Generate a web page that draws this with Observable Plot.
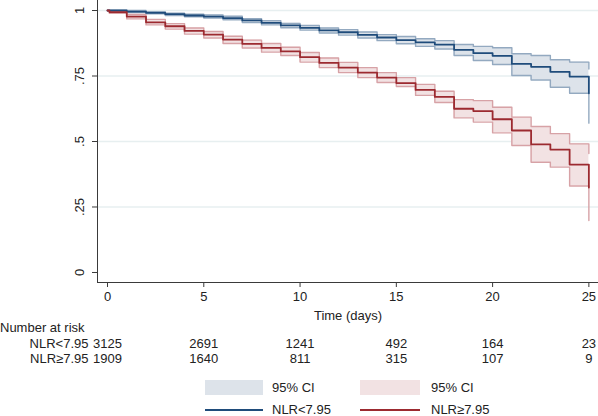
<!DOCTYPE html>
<html><head><meta charset="utf-8">
<script src="https://cdn.jsdelivr.net/npm/d3@7"></script>
<script src="https://cdn.jsdelivr.net/npm/@observablehq/plot@0.6"></script>
<style>
html,body{margin:0;padding:0;background:#fff;}
body{font-family:"Liberation Sans",Arial,sans-serif;font-size:13px;color:#222;}
#wrap{position:relative;width:598px;height:416px;overflow:hidden;}
#wrap > *{position:absolute;}
.lab{line-height:15px;white-space:nowrap;}
.sw{height:15px;}
.ln{height:2px;}
</style></head><body><div id="wrap"></div>
<script>
// ---- data ----
const blueTime = [0,1,2,3,4,5,6,7,8,9,10,11,12,13,14,15,16,17,18,19,20,21,22,23,24,25];
const blueSurv = [1.000,0.996,0.991,0.986,0.981,0.977,0.971,0.962,0.953,0.943,0.934,0.924,0.917,0.907,0.897,0.887,0.878,0.870,0.850,0.837,0.827,0.796,0.785,0.766,0.748,0.684];
const blueHi   = [1.000,1.000,0.995,0.990,0.986,0.983,0.978,0.969,0.961,0.951,0.943,0.933,0.927,0.918,0.908,0.901,0.892,0.885,0.870,0.863,0.858,0.835,0.828,0.812,0.803,0.777];
const blueLo   = [1.000,0.992,0.987,0.981,0.976,0.971,0.965,0.954,0.945,0.934,0.925,0.914,0.906,0.895,0.885,0.873,0.863,0.853,0.828,0.809,0.794,0.752,0.735,0.707,0.684,0.570];

const redTime = [0,0.1,1,2,3,4,5,6,7,8,9,10,11,12,13,14,15,16,17,18,19,20,21,22,23,24,25];
const redSurv = [1.000,0.994,0.977,0.955,0.940,0.922,0.908,0.889,0.873,0.857,0.844,0.822,0.800,0.782,0.763,0.744,0.723,0.697,0.670,0.625,0.616,0.585,0.542,0.489,0.469,0.412,0.324];
const redHi   = [1.000,0.998,0.985,0.966,0.950,0.933,0.920,0.902,0.887,0.874,0.860,0.840,0.819,0.802,0.782,0.763,0.744,0.718,0.692,0.660,0.656,0.631,0.593,0.557,0.530,0.491,0.454];
const redLo   = [1.000,0.989,0.968,0.945,0.929,0.910,0.895,0.874,0.857,0.841,0.828,0.803,0.782,0.763,0.744,0.725,0.710,0.676,0.649,0.590,0.574,0.533,0.485,0.421,0.402,0.330,0.198];

const groups = ["NLR<7.95", "NLR≥7.95"];
const riskTimes = [0,5,10,15,20,25];
const riskBlue = [3125,2691,1241,492,164,23];
const riskRed  = [1909,1640,811,315,107,9];

const xTicks = [0,5,10,15,20,25];
const yTicks = [0,0.25,0.5,0.75,1];
const yTickLabels = ["0",".25",".5",".75","1"];
const gridVals = [0.25,0.5,0.75,1];

// ---- styles ----
const C = {
  blueLine:"#1f4c7b", blueEdge:"#93a9c0", blueFill:"#dde3ea",
  redLine:"#9c2a30", redEdge:"#d7a2a6", redFill:"#f2e2e3",
  grid:"#e7eff0", axis:"#3a3a3a", text:"#222"
};
const svgStyle = "font-family:'Liberation Sans',Arial,sans-serif;font-size:13px;color:#222;background:white;overflow:visible;";

const blueRows = blueTime.map((t,i)=>({t, s:blueSurv[i], lo:blueLo[i], hi:blueHi[i]}));
const redRows  = redTime.map((t,i)=>({t, s:redSurv[i], lo:redLo[i], hi:redHi[i]}));
const riskRows = [
  ...riskTimes.map((t,i)=>({t, g:groups[0], n:String(riskBlue[i])})),
  ...riskTimes.map((t,i)=>({t, g:groups[1], n:String(riskRed[i])}))
];

const xDomain = [-0.52, 25.5];
const yDomain = [-0.0382, 1.0382];

const main = Plot.plot({
  width:598, height:322,
  marginLeft:97, marginRight:0, marginTop:0, marginBottom:40,
  style:svgStyle,
  x:{domain:xDomain},
  y:{domain:yDomain},
  marks:[
    Plot.ruleY(gridVals, {stroke:C.grid, strokeWidth:1.5}),
    Plot.areaY(blueRows, {x:"t", y1:"lo", y2:"hi", curve:"step-after", fill:C.blueFill}),
    Plot.areaY(redRows,  {x:"t", y1:"lo", y2:"hi", curve:"step-after", fill:C.redFill}),
    Plot.line(blueRows, {x:"t", y:"lo", curve:"step-after", stroke:C.blueEdge, strokeWidth:1.4}),
    Plot.line(blueRows, {x:"t", y:"hi", curve:"step-after", stroke:C.blueEdge, strokeWidth:1.4}),
    Plot.line(redRows,  {x:"t", y:"lo", curve:"step-after", stroke:C.redEdge, strokeWidth:1.4}),
    Plot.line(redRows,  {x:"t", y:"hi", curve:"step-after", stroke:C.redEdge, strokeWidth:1.4}),
    Plot.line(blueRows, {x:"t", y:"s", curve:"step-after", stroke:C.blueLine, strokeWidth:1.8}),
    Plot.line(redRows,  {x:"t", y:"s", curve:"step-after", stroke:C.redLine, strokeWidth:1.8}),
    Plot.axisY({ticks:yTicks, tickFormat:d=>yTickLabels[yTicks.indexOf(d)], tickRotate:-90, tickSize:5, tickPadding:9, label:null, stroke:C.axis, fill:C.text, fontSize:13}),
    Plot.axisX({ticks:xTicks, tickSize:5, tickPadding:4, label:"Time (days)", labelAnchor:"center", labelArrow:"none", stroke:C.axis, fill:C.text, fontSize:13}),
    Plot.frame({anchor:"left", stroke:C.axis}),
    Plot.frame({anchor:"bottom", stroke:C.axis})
  ]
});

const risk = Plot.plot({
  width:598, height:31,
  marginLeft:97, marginRight:0, marginTop:1, marginBottom:0,
  style:svgStyle,
  x:{domain:xDomain, axis:null},
  y:{type:"band", domain:groups, padding:0, axis:null},
  marks:[
    Plot.text(riskRows, {x:"t", y:"g", text:"n", fill:C.text, fontSize:13}),
    Plot.axisY({tickSize:0, tickPadding:9, label:null, fill:C.text, fontSize:13})
  ]
});

const wrap = document.getElementById("wrap");
main.style.left="0px"; main.style.top="0px";
wrap.appendChild(main);

function el(cls, css, text){
  const d=document.createElement("div");
  d.className=cls; d.setAttribute("style", css);
  if(text!=null) d.textContent=text;
  wrap.appendChild(d); return d;
}
el("lab","left:0px;top:320px;","Number at risk");
risk.style.left="0px"; risk.style.top="335px";
wrap.appendChild(risk);

// legend
el("sw", `left:205px;top:380px;width:58px;background:${C.blueFill};`);
el("lab","left:272px;top:380px;","95% CI");
el("sw", `left:360px;top:380px;width:60px;background:${C.redFill};`);
el("lab","left:431px;top:380px;","95% CI");
el("ln", `left:205px;top:409px;width:58px;background:${C.blueLine};`);
el("lab","left:272px;top:402px;",groups[0]);
el("ln", `left:360px;top:409px;width:60px;background:${C.redLine};`);
el("lab","left:431px;top:402px;",groups[1]);
</script></body></html>
